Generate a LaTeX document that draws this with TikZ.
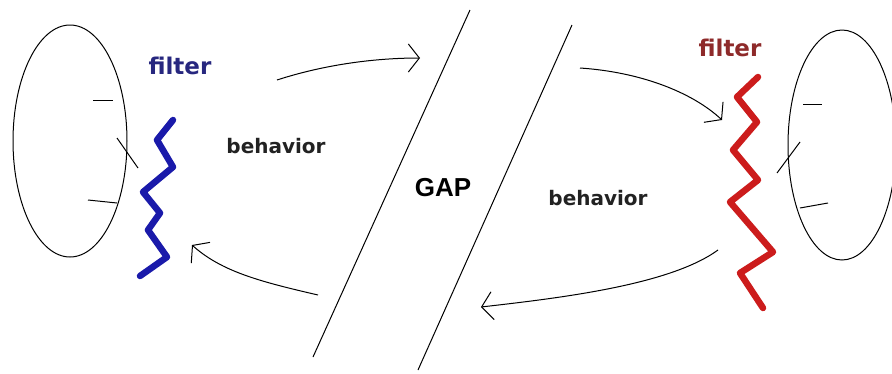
\documentclass[tikz,border=0pt]{standalone}
\usepackage{fontspec}
\setmainfont{DejaVu Sans}
\newfontfamily\gapfont{Liberation Sans}
\usetikzlibrary{arrows.meta}
\definecolor{fblue}{HTML}{27277F}
\definecolor{wblue}{HTML}{1A1AAA}
\definecolor{fred}{HTML}{8E2A2A}
\definecolor{wred}{HTML}{CC1C1C}
\definecolor{txtgray}{HTML}{222222}
\tikzset{
  thin line/.style={draw=black, line width=1pt},
  arr/.style={thin line, -{Straight Barb[length=11pt,width=28pt,line width=1pt]}},
  wiggle/.style={line width=6.5pt, line join=round, line cap=round},
  lbl/.style={inner sep=0pt, font=\bfseries},
}
\begin{document}
\begin{tikzpicture}[x=1pt,y=-1pt]
\useasboundingbox[fill=white] (0,0) rectangle (892,373);
% left ellipse and ticks
\draw[thin line] (70,141) ellipse [x radius=57, y radius=116];
\draw[thin line] (93,100) -- (113,100);
\draw[thin line] (117,138) -- (138,168);
\draw[thin line] (88,200) -- (117,203);
% right ellipse and ticks
\draw[thin line] (842,145) ellipse [x radius=54, y radius=115];
\draw[thin line] (803,104) -- (822,104);
\draw[thin line] (777,173) -- (800,142);
\draw[thin line] (800,208) -- (828,203);
% wiggles
\draw[wiggle, wblue] (173,120) -- (157,140) -- (173,167) -- (143,192) -- (160,213) -- (148,230) -- (167,257) -- (140,276);
\draw[wiggle, wred] (758,77) -- (737,97) -- (757,122) -- (733,150) -- (758,180) -- (730,202) -- (773,252) -- (740,273) -- (763,308);
% gap lines
\coordinate (g1a) at (470,10); \coordinate (g1b) at (313,357);
\coordinate (g2a) at (572,25); \coordinate (g2b) at (418,370);
\draw[thin line] (g1a) -- (g1b);
\draw[thin line] (g2a) -- (g2b);
% texts
\node[lbl, text=fblue, font=\bfseries\fontsize{23}{26}\selectfont] (filterL) at (180,66) {filter};
\node[lbl, text=fred, font=\bfseries\fontsize{23}{26}\selectfont] (filterR) at (730,48) {filter};
\node[lbl, text=txtgray, font=\bfseries\fontsize{20}{24}\selectfont] (behL) at (276,146) {behavior};
\node[lbl, text=txtgray, font=\bfseries\fontsize{20}{24}\selectfont] (behR) at (598,198) {behavior};
\node[lbl, text=black, font=\gapfont\bfseries\fontsize{26}{30}\selectfont] (gap) at (443,188) {GAP};
% arrows
\coordinate (a1s) at (277,80); \coordinate (a1e) at (420,58);
\coordinate (a2s) at (580,68); \coordinate (a2e) at (722,120);
\coordinate (a3s) at (718,250); \coordinate (a3e) at (481,307);
\coordinate (a4s) at (318,295); \coordinate (a4e) at (192,245);
\draw[arr] (a1s) .. controls (320,66) and (370,58) .. (a1e);
\draw[arr] (a2s) .. controls (640,72) and (692,92) .. (a2e);
\draw[arr] (a3s) .. controls (670,285) and (560,298) .. (a3e);
\draw[arr] (a4s) .. controls (262,282) and (222,272) .. (a4e);
\end{tikzpicture}
\end{document}
